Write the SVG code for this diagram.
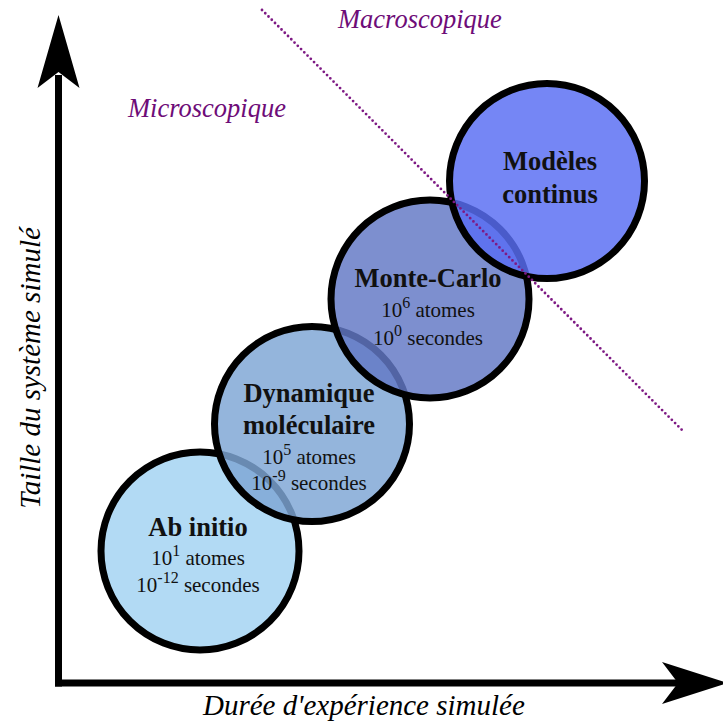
<svg xmlns="http://www.w3.org/2000/svg" width="723" height="722" viewBox="0 0 723 722">
<style>
.c{stroke:#000;stroke-width:7;fill-opacity:0.83}
.t{font-family:"Liberation Serif","Times New Roman",serif;font-weight:bold;font-size:26.5px;fill:#111;text-anchor:middle}
.s{font-family:"Liberation Serif","Times New Roman",serif;font-size:21px;fill:#111;text-anchor:middle}
.sup{font-size:16px}
.lab{font-family:"Liberation Serif","Times New Roman",serif;font-style:italic;font-size:29px;fill:#000}
.zone{font-family:"Liberation Serif","Times New Roman",serif;font-style:italic;font-size:26.5px;fill:#6e0c78}
</style>
<rect width="723" height="722" fill="#fff"/>
<g id="axes">
<line x1="58.5" y1="75" x2="58.5" y2="686.5" stroke="#000" stroke-width="7"/>
<line x1="55" y1="683" x2="680" y2="683" stroke="#000" stroke-width="7"/>
<path d="M58.5,15 L79.5,88 L58.5,72 L37.5,88 Z" fill="#000"/>
<path d="M728,683 L662,662 L678,683 L662,704 Z" fill="#000"/>
</g>
<g id="ab-initio">
<circle class="c" cx="200" cy="551" r="99" fill="#a2d3f2"/>
<text class="t" x="198" y="536">Ab initio</text>
<text class="s" x="198" y="565">10<tspan class="sup" dy="-9">1</tspan><tspan dy="9"> atomes</tspan></text>
<text class="s" x="198" y="592">10<tspan class="sup" dy="-9">-12</tspan><tspan dy="9"> secondes</tspan></text>
</g>
<g id="dynamique">
<circle class="c" cx="312" cy="424" r="97.5" fill="#7ea6d5"/>
<text class="t" x="309" y="402">Dynamique</text>
<text class="t" x="309" y="434">moléculaire</text>
<text class="s" x="309" y="464">10<tspan class="sup" dy="-9">5</tspan><tspan dy="9"> atomes</tspan></text>
<text class="s" x="309" y="490">10<tspan class="sup" dy="-9">-9</tspan><tspan dy="9"> secondes</tspan></text>
</g>
<g id="monte-carlo">
<circle class="c" cx="430" cy="299" r="99" fill="#6378c5"/>
<text class="t" x="428" y="287">Monte-Carlo</text>
<text class="s" x="428" y="317">10<tspan class="sup" dy="-9">6</tspan><tspan dy="9"> atomes</tspan></text>
<text class="s" x="428" y="345">10<tspan class="sup" dy="-9">0</tspan><tspan dy="9"> secondes</tspan></text>
</g>
<g id="modeles-continus">
<circle class="c" cx="547" cy="181" r="97.5" fill="#596df3"/>
<text class="t" x="550" y="170">Modèles</text>
<text class="t" x="550" y="203">continus</text>
</g>
<g id="connectors">
<line x1="262" y1="10" x2="683" y2="431" stroke="#7e1a84" stroke-width="2.8" stroke-linecap="round" stroke-dasharray="0 4.6"/>
</g>
<g id="labels">
<text class="zone" x="338" y="28">Macroscopique</text>
<text class="zone" x="128" y="117">Microscopique</text>
<text class="lab" x="203" y="715" font-size="30">Durée d'expérience simulée</text>
<text class="lab" text-anchor="middle" font-size="28" transform="translate(40,368) rotate(-90)">Taille du système simulé</text>
</g>
</svg>
